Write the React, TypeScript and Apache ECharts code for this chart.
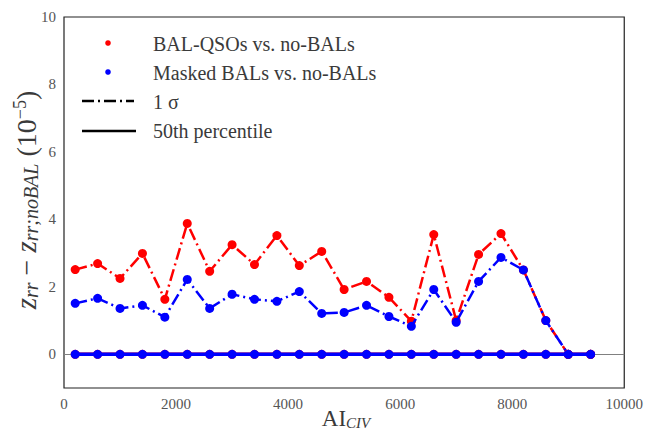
import React, { useEffect, useRef } from "react";
import * as echarts from "echarts";

const aiCIV = [200, 600, 1000, 1400, 1800, 2200, 2600, 3000, 3400, 3800, 4200, 4600, 5000, 5400, 5800, 6200, 6600, 7000, 7400, 7800, 8200, 8600, 9000, 9400];
const balSigma = [2.51, 2.69, 2.25, 2.99, 1.63, 3.88, 2.46, 3.25, 2.66, 3.52, 2.63, 3.05, 1.92, 2.16, 1.69, 0.98, 3.55, 1.0, 2.96, 3.58, 2.5, 1.0, 0, 0];
const maskedSigma = [1.51, 1.66, 1.36, 1.45, 1.1, 2.22, 1.36, 1.78, 1.63, 1.57, 1.86, 1.21, 1.24, 1.45, 1.12, 0.83, 1.92, 0.95, 2.16, 2.87, 2.5, 1.0, 0, 0];
const balMedian = [0, 0, 0, 0, 0, 0, 0, 0, 0, 0, 0, 0, 0, 0, 0, 0, 0, 0, 0, 0, 0, 0, 0, 0];
const maskedMedian = [0, 0, 0, 0, 0, 0, 0, 0, 0, 0, 0, 0, 0, 0, 0, 0, 0, 0, 0, 0, 0, 0, 0, 0];
const yTickLabels = [0, 2, 4, 6, 8, 10];
const legendLabels = ["BAL-QSOs vs. no-BALs", "Masked BALs vs. no-BALs", "1 σ", "50th percentile"];

const SERIF = "Liberation Serif";
const DASHDOT = [12, 4, 2, 4];

export default function App() {
  const ref = useRef<HTMLDivElement>(null);
  useEffect(() => {
    if (!ref.current) return;
    const chart = echarts.init(ref.current, null, { renderer: "svg" });
    const pair = (ys: number[]) => aiCIV.map((x, i) => [x, ys[i]]);
    const textColor = "#3a3a3a";
    chart.setOption({
      animation: false,
      backgroundColor: "#ffffff",
      grid: {
        left: 64,
        right: 18,
        top: 17,
        bottom: 46,
        show: true,
        borderColor: "#222",
        borderWidth: 1.2,
        backgroundColor: "transparent",
      },
      xAxis: {
        type: "value",
        min: 0,
        max: 10000,
        interval: 2000,
        axisLine: { show: false },
        axisTick: { show: false },
        splitLine: { show: false },
        axisLabel: {
          color: "#555",
          fontFamily: SERIF,
          fontSize: 15,
          margin: 8,
          formatter: (v: number) => String(v),
        },
      },
      yAxis: {
        type: "value",
        min: -1,
        max: 10,
        interval: 1,
        axisLine: { show: false },
        axisTick: { show: false },
        splitLine: { show: false },
        axisLabel: {
          color: "#555",
          fontFamily: SERIF,
          fontSize: 15,
          margin: 8,
          formatter: (v: number) => (yTickLabels.includes(v) ? String(v) : ""),
        },
      },
      series: [
        {
          type: "line",
          data: [],
          silent: true,
          markLine: {
            silent: true,
            symbol: "none",
            label: { show: false },
            lineStyle: { color: "#808080", width: 1, type: "solid" },
            data: [{ yAxis: 0 }],
          },
          z: 1,
        },
        {
          name: "BAL-QSOs 1 sigma",
          type: "line",
          data: pair(balSigma),
          symbol: "circle",
          symbolSize: 9,
          itemStyle: { color: "#ff0000" },
          lineStyle: { color: "#ff0000", width: 2.5, type: DASHDOT },
          z: 2,
        },
        {
          name: "Masked 1 sigma",
          type: "line",
          data: pair(maskedSigma),
          symbol: "circle",
          symbolSize: 9,
          itemStyle: { color: "#0000ff" },
          lineStyle: { color: "#0000ff", width: 2.5, type: DASHDOT },
          z: 3,
        },
        {
          name: "BAL-QSOs median",
          type: "line",
          data: pair(balMedian),
          symbol: "circle",
          symbolSize: 9,
          itemStyle: { color: "#ff0000" },
          lineStyle: { color: "#ff0000", width: 3.5, type: "solid" },
          z: 4,
        },
        {
          name: "Masked median",
          type: "line",
          data: pair(maskedMedian),
          symbol: "circle",
          symbolSize: 9,
          itemStyle: { color: "#0000ff" },
          lineStyle: { color: "#0000ff", width: 3.5, type: "solid" },
          z: 5,
        },
      ],
      graphic: [
        { type: "circle", shape: { cx: 108, cy: 43, r: 2.8 }, style: { fill: "#ff0000" }, z: 10 },
        { type: "circle", shape: { cx: 108, cy: 72, r: 2.8 }, style: { fill: "#0000ff" }, z: 10 },
        {
          type: "line",
          shape: { x1: 82, y1: 101, x2: 134, y2: 101 },
          style: { stroke: "#000", lineWidth: 2.5, lineDash: DASHDOT },
          z: 10,
        },
        {
          type: "line",
          shape: { x1: 82, y1: 131, x2: 136, y2: 131 },
          style: { stroke: "#000", lineWidth: 2.5 },
          z: 10,
        },
        ...legendLabels.map((t, i) => ({
          type: "text",
          x: 153,
          y: [44, 73, 102, 131][i],
          style: {
            text: t,
            fill: textColor,
            fontFamily: SERIF,
            fontSize: 20,
            align: "left",
            verticalAlign: "middle",
          },
          z: 10,
        })),
        {
          type: "text",
          x: 346,
          y: 418,
          style: {
            text: "{r|AI}{s|CIV}",
            align: "center",
            verticalAlign: "middle",
            rich: {
              r: { fontFamily: SERIF, fontSize: 23, fill: textColor, lineHeight: 24 },
              s: { fontFamily: SERIF, fontSize: 15, fontStyle: "italic", fill: textColor, lineHeight: 14, verticalAlign: "bottom" },
            },
          },
          z: 10,
        },
        {
          type: "text",
          x: 26,
          y: 200,
          rotation: Math.PI / 2,
          style: {
            text: "{i|z}{s|rr}{r| − }{i|z}{s|rr;noBAL}{r| (10}{p|−5}{r|)}",
            align: "center",
            verticalAlign: "middle",
            rich: {
              i: { fontFamily: SERIF, fontSize: 29, fontStyle: "italic", fill: textColor, lineHeight: 30 },
              r: { fontFamily: SERIF, fontSize: 28, fill: textColor, lineHeight: 30 },
              s: { fontFamily: SERIF, fontSize: 20, fontStyle: "italic", fill: textColor, lineHeight: 14, verticalAlign: "bottom" },
              p: { fontFamily: SERIF, fontSize: 18, fill: textColor, lineHeight: 16, verticalAlign: "top" },
            },
          },
          z: 10,
        },
      ],
    });
    return () => chart.dispose();
  }, []);
  return <div ref={ref} style={{ width: 646, height: 434, position: "absolute", left: 0, top: 0 }} />;
}
